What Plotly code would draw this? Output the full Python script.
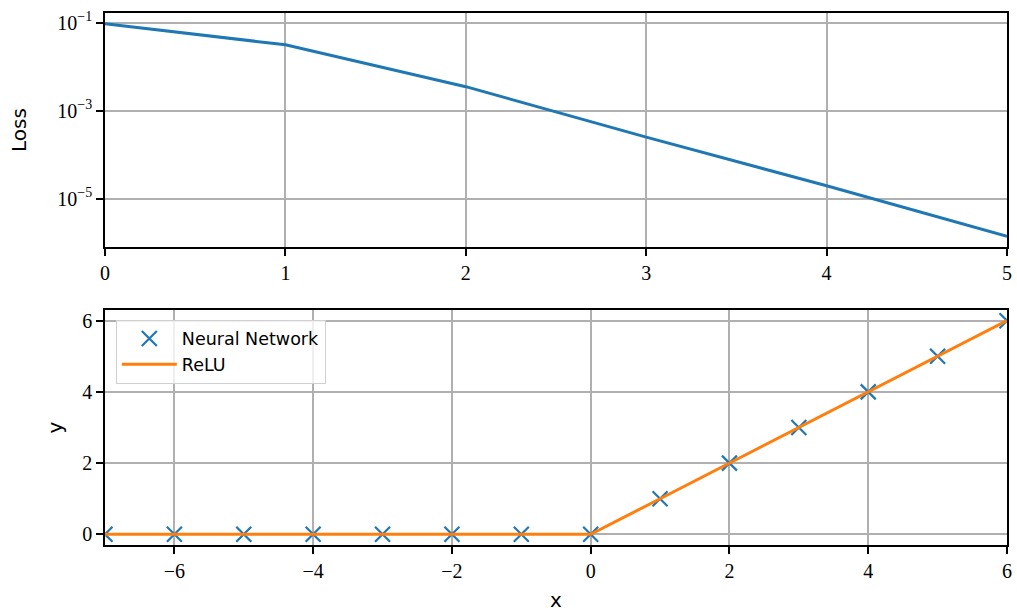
import plotly.graph_objects as go
from plotly.subplots import make_subplots
import math

# ---- data ----
epochs = [0, 1, 2, 3, 4, 5]
loss = [0.095, 0.0313, 0.0035, 2.5e-4, 1.95e-5, 1.38e-6]

x_nn = [-7, -6, -5, -4, -3, -2, -1, 0, 1, 2, 3, 4, 5, 6]
y_nn = [0, 0, 0, 0, 0, 0, 0, 0, 1, 2, 3, 4, 5, 6]
x_relu = [-7, -6, -5, -4, -3, -2, -1, 0, 1, 2, 3, 4, 5, 6]
y_relu = [0, 0, 0, 0, 0, 0, 0, 0, 1, 2, 3, 4, 5, 6]

loss_tickvals = [1e-1, 1e-3, 1e-5]
loss_ticktext = ["10<sup>−1</sup>", "10<sup>−3</sup>", "10<sup>−5</sup>"]
bottom_xticks = [-6, -4, -2, 0, 2, 4, 6]
bottom_yticks = [0, 2, 4, 6]

BLUE = "#1f77b4"
ORANGE = "#ff7f0e"
GRID = "#b0b0b0"
SERIF = "Liberation Serif"
SANS = "DejaVu Sans"

W, H = 1017, 612
ml, mr, mt, mb = 105, 10, 13, 67
ph = H - mt - mb
top_lo = (545 - 247) / ph
bot_hi = (545 - 310) / ph

fig = make_subplots(rows=2, cols=1)

fig.add_trace(go.Scatter(x=epochs, y=loss, mode="lines",
                         line=dict(color=BLUE, width=3), showlegend=False),
              row=1, col=1)
fig.add_trace(go.Scatter(x=x_nn, y=y_nn, mode="markers", name="Neural Network",
                         marker=dict(symbol="x-thin", size=15, color=BLUE,
                                     line=dict(color=BLUE, width=2.2))),
              row=2, col=1)
fig.add_trace(go.Scatter(x=x_relu, y=y_relu, mode="lines", name="ReLU",
                         line=dict(color=ORANGE, width=3)),
              row=2, col=1)

def ax(**kw):
    d = dict(showline=True, linecolor="black", linewidth=1.5, mirror=True,
             ticks="outside", ticklen=7, tickwidth=1.5, tickcolor="black",
             showgrid=True, gridcolor=GRID, gridwidth=1.5, zeroline=False,
             automargin=False,
             tickfont=dict(family=SERIF, size=20, color="black"))
    d.update(kw)
    return d

title_font = dict(family=SANS, size=20, color="black")

lmin = math.log10(min(loss))
lmax = math.log10(max(loss))
pad = 0.05 * (lmax - lmin)

fig.update_layout(
    width=W, height=H,
    margin=dict(l=ml, r=mr, t=mt, b=mb),
    plot_bgcolor="white", paper_bgcolor="white",
    font=dict(family=SERIF, size=20, color="black"),
    xaxis=ax(range=[0, 5], tickmode="array", tickvals=epochs),
    yaxis=ax(domain=[top_lo, 1.0], type="log", range=[lmin - pad, lmax + pad],
             tickmode="array", tickvals=loss_tickvals, ticktext=loss_ticktext,
             title=dict(text="Loss", font=title_font, standoff=25)),
    xaxis2=ax(range=[-7, 6], tickmode="array", tickvals=bottom_xticks,
              title=dict(text="x", font=title_font, standoff=14)),
    yaxis2=ax(domain=[0.0, bot_hi], range=[-0.3, 6.3], tickmode="array",
              tickvals=bottom_yticks,
              title=dict(text="y", font=title_font, standoff=14)),
    legend=dict(x=0.012, y=bot_hi - 0.018, xanchor="left", yanchor="top",
                bgcolor="rgba(255,255,255,0.8)", bordercolor="#d0d0d0", borderwidth=1,
                font=dict(family=SANS, size=17.5, color="black"),
                itemwidth=55, tracegroupgap=0),
)

fig.write_html("out.html")
